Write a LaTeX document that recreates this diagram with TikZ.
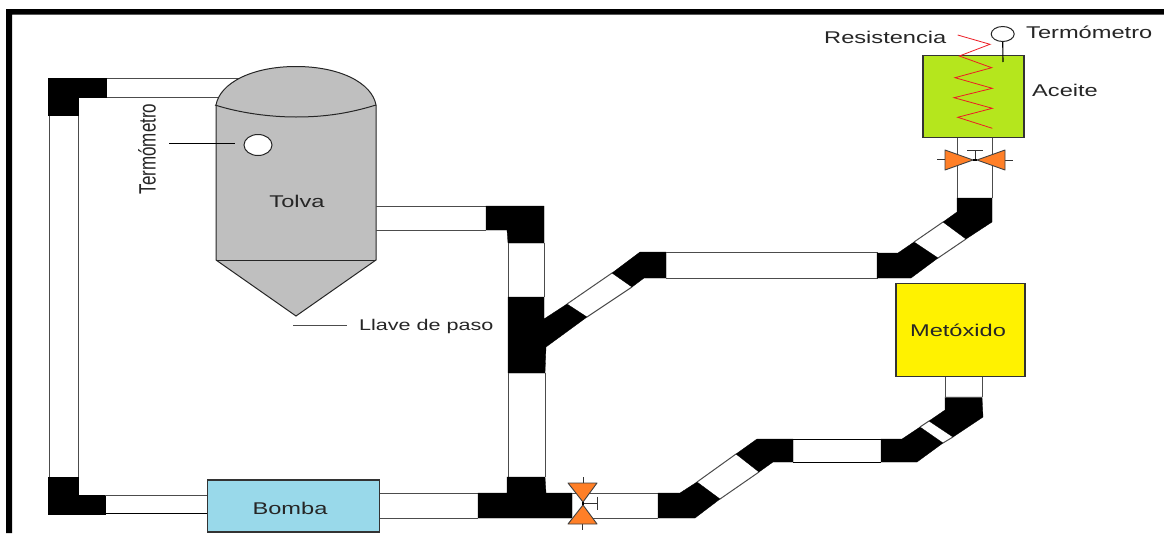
\documentclass[tikz,border=0pt]{standalone}
\usepackage{fontspec}
\setmainfont{Liberation Sans}
\usetikzlibrary{shapes.geometric}
\newcommand{\stx}[1]{\scalebox{1.39}[1]{#1}}
\definecolor{vorange}{HTML}{FF7F27}
\definecolor{cred}{HTML}{ED1C24}
\definecolor{bombac}{HTML}{99D9EA}
\definecolor{metc}{HTML}{FFF200}
\definecolor{acec}{HTML}{B5E61D}
\tikzset{
  blk/.style={fill=black,draw=black,line width=.3pt},
  edge/.style={draw=black!70,line width=1pt},
  vessel/.style={draw=black!85,line width=1pt},
  box/.style={draw=black!80,line width=1.2pt,inner sep=0pt,anchor=north west},
  lbl/.style={text=black!85,inner sep=0pt,font=\fontsize{17}{20}\selectfont},
  small/.style={text=black!85,inner sep=0pt,font=\fontsize{15.5}{18}\selectfont},
  lead/.style={draw=black,line width=.9pt},
  gauge/.style={ellipse,draw=black!85,fill=white,line width=1pt,inner sep=0pt},
  vlv/.style={fill=vorange,draw=black!75,line width=.9pt,line join=round},
  stem/.style={draw=black!80,line width=.9pt},
  coil/.style={draw=cred,line width=.8pt}
}
\begin{document}
\begin{tikzpicture}[x=1pt,y=-1pt]
\useasboundingbox (0,0) rectangle (1164,533);
\fill[white] (0,0) rectangle (1164,533);
% frame
\fill[black] (6,533) -- (6,9) -- (1164,9) -- (1164,14.7) -- (12,14.7) -- (12,533) -- cycle;

% top-left elbow and return pipe
\draw[edge] (106,78) -- (245,78) (106,97) -- (222,97);
\draw[edge] (49,115) -- (49,477) (78,115) -- (78,477);
\path[blk] (48.5,78) -- (106,78) -- (106,97) -- (78,97) -- (78,115) -- (48.5,115) -- cycle;
\path[blk] (48.5,477) -- (78,477) -- (78,495) -- (105,495) -- (105,514) -- (48.5,514) -- cycle;
\draw[edge] (105,495) -- (207,495);
\draw[draw=black,line width=1pt] (105,513.5) -- (207,513.5);

% Tolva
\path[fill=black!25,vessel] (216,105) .. controls (220,83) and (252,66.5) .. (296,66.5) .. controls (340,66.5) and (372,83) .. (376,105) -- (376,260) -- (296,316) -- (216,260) -- cycle;
\draw[vessel] (215,105) .. controls (240,113) and (270,117) .. (296,117) .. controls (326,117) and (350,113) .. (376,105);
\draw[vessel] (216,260) -- (376,260);
\node[lbl] (tolva) at (297,201) {\stx{Tolva}};
\node[gauge,minimum width=28pt,minimum height=21pt] (gaugeT) at (258,145) {};
\coordinate (leadT) at (169,143);
\coordinate (leadTe) at (235,143);
\draw[lead] (leadT) -- (leadTe);
\node[lbl] (termT) at (147,149) {\scalebox{1.39}[1]{\rotatebox{90}{Termómetro}}};
\coordinate (lla) at (293,325);
\coordinate (llb) at (347,325);
\draw[edge] (lla) -- (llb);
\node[small,anchor=west] (llave) at (359,326) {\stx{Llave de paso}};

% pipe from Tolva to the junction
\draw[edge] (376,206) -- (486,206) (376,230) -- (486,230);
\path[blk] (486,206) -- (544,206) -- (544,243) -- (508,243) -- (507,230) -- (486,230) -- cycle;
\draw[edge] (508,243) -- (508,297) (544,243) -- (544,297);
\path[blk] (508,297) -- (544,297) -- (544,319) -- (567,304) -- (587,317) -- (546,347) -- (545,373) -- (508,373) -- cycle;
\draw[edge] (508,373) -- (508,477) (545,373) -- (545,477);
\draw[edge] (567,304) -- (612,273) (587,317) -- (632,287);
\path[blk] (612,273) -- (640,252) -- (666,252) -- (666,278) -- (644,278) -- (632,287) -- cycle;
\draw[edge] (666,252) -- (878,252) (666,278) -- (878,278);
\path[blk] (877,253) -- (898,253) -- (914,242) -- (938,258) -- (911,278) -- (877,278) -- cycle;
\draw[edge] (914,242) -- (943,222) (938,258) -- (966,239);
\path[blk] (943,222) -- (957,212) -- (957,198) -- (992,198) -- (992,222) -- (966,239) -- cycle;
\draw[edge] (957,137) -- (957,198) (992,137) -- (992,198);

% bottom pipe
\draw[edge] (380,493) -- (478,493) (380,518) -- (478,518);
\path[blk] (507,477) -- (545,477) -- (546,493) -- (572,493) -- (572,518) -- (478,518) -- (478,493) -- (507,493) -- cycle;
\draw[edge] (572,493) -- (658,493) (572,518) -- (658,518);
\path[blk] (658,493) -- (680,493) -- (697,482) -- (720,499) -- (695,518) -- (658,518) -- cycle;
\draw[edge] (697,482) -- (736,454) (720,499) -- (759,472);
\path[blk] (736,454) -- (757,439) -- (793,439) -- (793,462) -- (773,462) -- (759,472) -- cycle;
\draw[draw=black,line width=1pt] (793,439) -- (881,439) (793,462) -- (881,462);
\path[blk] (881,439) -- (902,439) -- (920,427) -- (943,443) -- (917,462) -- (881,462) -- cycle;
\draw[edge] (920,427) -- (929,421) (943,443) -- (953,437);
\path[blk] (929,421) -- (945,410) -- (945,397) -- (982,397) -- (983,417) -- (953,437) -- cycle;
\draw[edge] (945,376) -- (945,397) (982,376) -- (982,397) (945,397) -- (982,397);

% Bomba
\node[box,fill=bombac,minimum width=172pt,minimum height=52pt] (bomba) at (206.6,479.4) {};
\node[lbl] (bombat) at (290,508) {\stx{Bomba}};

% Metoxido
\node[box,fill=metc,minimum width=129pt,minimum height=92.5pt] (met) at (895.3,283) {};
\node[lbl] (mett) at (958,330) {\stx{Metóxido}};

% Aceite
\node[box,fill=acec,minimum width=101pt,minimum height=82pt] (ace) at (922.3,54.6) {};
\node[lbl,anchor=west] (acet) at (1032,90) {\stx{Aceite}};
\draw[coil] (957.7,35) -- (990,44.3) -- (959.3,56) -- (991.7,67.7) -- (955,77.7) -- (992.3,88.3) -- (954,97.7) -- (992.3,108.3) -- (957.7,117.3) -- (992.3,128.3);
\node[lbl,anchor=west] (res) at (824,37) {\stx{Resistencia}};
\node[gauge,minimum width=23pt,minimum height=15pt] (gaugeA) at (1002.7,34) {};
\coordinate (probe) at (1003,62);
\draw[draw=black,line width=1.1pt] (gaugeA.south) -- (probe);
\node[lbl,anchor=west] (termA) at (1026,32) {\stx{Termómetro}};

% valve on the Aceite line
\draw[stem] (937,159.5) -- (945,159.5) (1005,160) -- (1013,160) (975,159) -- (975,150) (967,150) -- (983,150);
\path[vlv] (945,150) -- (945,170) -- (973,160) -- cycle;
\path[vlv] (1005,150) -- (1005,170) -- (977,160) -- cycle;
\draw[black,line width=1.4pt] (973,160) -- (977,160);

% valve on the bottom line
\draw[stem] (583,477) -- (583,483) (582,524) -- (582,530) (583,503.5) -- (597,503.5) (597,496.5) -- (597,509.5);
\path[vlv] (568,483) -- (597,483) -- (583,502) -- cycle;
\path[vlv] (568,524) -- (597,524) -- (583,505) -- cycle;
\draw[black,line width=1.4pt] (583,502) -- (583,505);
\end{tikzpicture}
\end{document}
